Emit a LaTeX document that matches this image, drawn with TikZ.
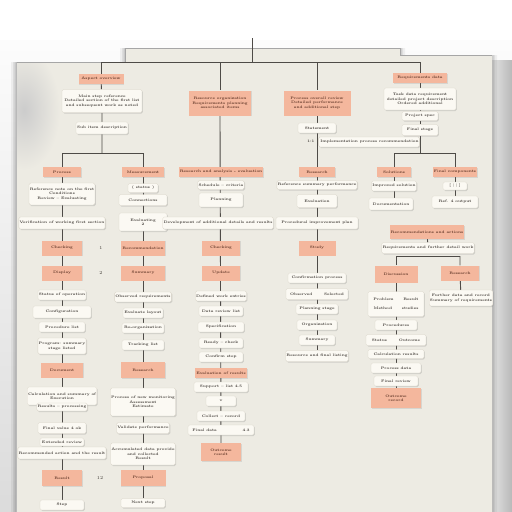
\documentclass[tikz,border=0pt]{standalone}
\usetikzlibrary{shadows,positioning}
\definecolor{paperc}{HTML}{EDEBE3}
\definecolor{salc}{HTML}{F4B79D}
\definecolor{boxc}{HTML}{FBF9F3}
\definecolor{boxd}{HTML}{D9D4C8}
\definecolor{linec}{HTML}{4E4B47}
\definecolor{txtc}{HTML}{3E3934}
\definecolor{saltxt}{HTML}{5E3526}
\pgfdeclarelayer{paperl}
\pgfdeclarelayer{bg}
\pgfsetlayers{paperl,bg,main}
\tikzset{
  base/.style={align=center,inner sep=0.8pt,font=\fontsize{3.6}{4.3}\selectfont\bfseries,text=txtc},
  sal/.style={base,fill=salc,text=saltxt,drop shadow={opacity=0.2,shadow xshift=0.8pt,shadow yshift=-0.9pt}},
  wb/.style={base,fill=boxc,draw=boxd,line width=0.3pt,rounded corners=1.5pt,drop shadow={opacity=0.28,shadow xshift=0.9pt,shadow yshift=-1pt}},
  ln/.style={draw=linec,line width=0.9pt},
  num/.style={font=\fontsize{4.5}{5}\selectfont,text=txtc}
}
\begin{document}
\begin{tikzpicture}[x=1pt,y=-1pt]
\useasboundingbox (0,0) rectangle (512,512);
\begin{pgfonlayer}{paperl}
% surroundings
\shade[top color=white,bottom color=gray!28] (0,0) rectangle (512,512);
\shade[left color=white,right color=gray!55] (478,60) rectangle (512,512);
\fill[white] (0,0) rectangle (512,40);
% paper shadow
\foreach \o/\a in {5/0.05,3/0.07,1.5/0.09}{
  \fill[black,opacity=\a] (16-\o,62) -- (125-\o,62) -- (125-\o,48) -- (400+\o,48) -- (400+\o,55) -- (492+\o,55) -- (492+\o,512) -- (16-\o,512) -- cycle;}
% paper
\fill[paperc] (16,62) -- (125,62) -- (125,48) -- (400,48) -- (400,55) -- (492,55) -- (492,512) -- (16,512) -- cycle;
\begin{scope}
\clip (16,62) rectangle (125,200);
\shade[inner color=gray!40,outer color=paperc] (24,110) ellipse (36 and 60);
\end{scope}
\draw[gray!70,line width=0.5pt] (16,62) -- (125,62) -- (125,48) -- (400,48) -- (400,55) -- (492,55);
\draw[gray!55,line width=0.6pt] (16,62) -- (16,512);
\end{pgfonlayer}

% ---------- column 1 ----------
\node[sal,minimum width=45pt,minimum height=10pt] (a0) at (101,79) {Aspect overview};
\node[wb,minimum width=80pt,minimum height=23pt] (a1) at (102,101) {Main step reference\\Detailed section of the first list\\and subsequent work as noted};
\node[wb,minimum width=52pt,minimum height=12pt] (a2) at (102,128) {Sub item description};
\coordinate (j1) at (102,153);
\coordinate (jl) at (62,153);
\coordinate (jr) at (143,153);

\node[sal,minimum width=38pt,minimum height=10pt] (b1) at (62,172) {Process};
\node[wb,minimum width=54pt,minimum height=22pt] (b2) at (62,194) {Reference note on the first\\Conditions\\Review -- Evaluating};
\node[wb,minimum width=70pt,minimum height=12pt] (b3) at (62,223) {Verification of working first section};
\node[sal,minimum width=40pt,minimum height=15pt] (b4) at (62,248) {Checking};
\node[sal,minimum width=40pt,minimum height=15pt] (b5) at (62,273) {Display};
\node[wb,minimum width=48pt,minimum height=10pt] (b6) at (62,295) {Status of operation};
\node[wb,minimum width=58pt,minimum height=12pt] (b7) at (62,312) {Configuration};
\node[wb,minimum width=46pt,minimum height=10pt] (b8) at (62,327) {Procedure list};
\node[wb,minimum width=44pt,minimum height=16pt] (b9) at (62,346) {Program: summary\\stage listed};
\node[sal,minimum width=42pt,minimum height=15pt] (b10) at (62,370) {Document};
\node[wb,minimum width=60pt,minimum height=18pt] (b11) at (62,396) {Calculation and summary of\\Execution};
\node[wb,minimum width=44pt,minimum height=8pt] (b11b) at (62,407) {Results -- processing};
\node[wb,minimum width=48pt,minimum height=11pt] (b12) at (62,428) {Final value 4 ok};
\node[wb,minimum width=44pt,minimum height=8pt] (b13) at (62,442) {Extended review};
\node[wb,minimum width=76pt,minimum height=12pt] (b14) at (62,453) {Recommended action and the result};
\node[sal,minimum width=40pt,minimum height=16pt] (b15) at (62,478) {Result};
\node[wb,minimum width=44pt,minimum height=10pt] (b16) at (62,505) {Step};

\node[sal,minimum width=42pt,minimum height=10pt] (c1) at (143,172) {Measurement};
\node[wb,minimum width=30pt,minimum height=9pt] (c2) at (143,188) {( status )};
\node[wb,minimum width=48pt,minimum height=11pt] (c3) at (143,200) {Connections};
\node[wb,minimum width=48pt,minimum height=18pt] (c4) at (143,222) {Evaluating\\2};
\node[sal,minimum width=44pt,minimum height=15pt] (c5) at (143,248) {Recommendation};
\node[sal,minimum width=44pt,minimum height=15pt] (c6) at (143,273) {Summary};
\node[wb,minimum width=42pt,minimum height=10pt] (c7) at (143,297) {Observed requirements};
\node[wb,minimum width=40pt,minimum height=10pt] (c8) at (143,313) {Evaluate layout};
\node[wb,minimum width=42pt,minimum height=10pt] (c9) at (143,328) {Re-organization};
\node[wb,minimum width=42pt,minimum height=10pt] (c10) at (143,345) {Tracking list};
\node[sal,minimum width=44pt,minimum height=16pt] (c11) at (143,370) {Research};
\node[wb,minimum width=58pt,minimum height=28pt] (c12) at (143,402) {Process of new monitoring\\Assessment\\Estimate};
\node[wb,minimum width=46pt,minimum height=11pt] (c13) at (143,428) {Validate performance};
\node[wb,minimum width=60pt,minimum height=22pt] (c14) at (143,454) {Accumulated data provide\\and collected\\Result};
\node[sal,minimum width=45pt,minimum height=16pt] (c15) at (143,478) {Proposal};
\node[wb,minimum width=44pt,minimum height=9pt] (c16) at (143,503) {Next step};

\node[num] (n1) at (101,248) {1};
\node[num] (n2) at (101,273) {2};
\node[num] (n3) at (100,478) {12};

% ---------- column 2 ----------
\node[sal,minimum width=62pt,minimum height=25pt] (d0) at (220,103) {Resource organization\\Requirements planning\\associated items};
\node[sal,minimum width=68pt,minimum height=10pt] (d1) at (221,172) {Research and analysis - evaluation};
\node[wb,minimum width=45pt,minimum height=9pt] (d2) at (221,185) {Schedule -- criteria};
\node[wb,minimum width=44pt,minimum height=14pt] (d3) at (221,200) {Planning};
\node[wb,minimum width=78pt,minimum height=12pt] (d4) at (218,223) {Development of additional details and results};
\node[sal,minimum width=38pt,minimum height=15pt] (d5) at (221,248) {Checking};
\node[sal,minimum width=38pt,minimum height=15pt] (d6) at (221,273) {Update};
\node[wb,minimum width=46pt,minimum height=10pt] (d7) at (221,296) {Defined work entries};
\node[wb,minimum width=44pt,minimum height=10pt] (d8) at (221,311) {Data review list};
\node[wb,minimum width=46pt,minimum height=10pt] (d9) at (221,327) {Specification};
\node[wb,minimum width=44pt,minimum height=10pt] (d10) at (221,343) {Ready -- check};
\node[wb,minimum width=44pt,minimum height=10pt] (d11) at (221,357) {Confirm step};
\node[sal,minimum width=52pt,minimum height=10pt] (d12) at (221,373) {Evaluation of results};
\node[wb,minimum width=54pt,minimum height=10pt] (d13) at (221,387) {Support -- list 4.5};
\node[wb,minimum width=30pt,minimum height=10pt] (d14) at (221,401) {v};
\node[wb,minimum width=48pt,minimum height=10pt] (d15) at (221,416) {Collect -- record};
\node[wb,minimum width=66pt,minimum height=10pt] (d16) at (221,430) {Final data {\hskip 22pt} 4.3};
\node[sal,minimum width=40pt,minimum height=18pt] (d17) at (221,452) {Outcome\\result};

% ---------- column 3 ----------
\node[sal,minimum width=67pt,minimum height=25pt] (e0) at (317,103) {Process overall review\\Detailed performance\\and additional step};
\node[wb,minimum width=38pt,minimum height=10pt] (e1) at (317,128) {Statement};
\node[sal,minimum width=36pt,minimum height=10pt] (e2) at (317,172) {Research};
\node[wb,minimum width=66pt,minimum height=9pt] (e3) at (317,185) {Reference summary performance};
\node[wb,minimum width=40pt,minimum height=13pt] (e4) at (317,201) {Evaluation};
\node[wb,minimum width=82pt,minimum height=12pt] (e5) at (317,223) {Procedural improvement plan};
\node[sal,minimum width=37pt,minimum height=15pt] (e6) at (317,248) {Study};
\node[wb,minimum width=58pt,minimum height=10pt] (e7) at (317,278) {Confirmation process};
\node[wb,minimum width=62pt,minimum height=11pt] (e8) at (317,294) {Observed {\hskip 8pt} Selected};
\node[wb,minimum width=42pt,minimum height=10pt] (e9) at (317,309) {Planning stage};
\node[wb,minimum width=40pt,minimum height=10pt] (e10) at (317,325) {Organization};
\node[wb,minimum width=36pt,minimum height=10pt] (e11) at (317,340) {Summary};
\node[wb,minimum width=62pt,minimum height=11pt] (e12) at (317,356) {Resource and final listing};

% ---------- column 4 ----------
\node[sal,minimum width=54pt,minimum height=10pt] (f0) at (420,78) {Requirements data};
\node[wb,minimum width=72pt,minimum height=22pt] (f1) at (420,99) {Task data requirement\\detailed project description\\Ordered additional};
\node[wb,minimum width=36pt,minimum height=9pt] (f2) at (420,116) {Project spec};
\node[wb,minimum width=36pt,minimum height=11pt] (f3) at (420,130) {Final stage};
\node[wb,minimum width=98pt,minimum height=10pt] (f4) at (369,142) {\hskip -12pt 1:1 \hskip 4pt Implementation process recommendation};
\coordinate (q) at (420,153);
\coordinate (g0) at (394,153);
\coordinate (h0) at (455,153);
\node[sal,minimum width=34pt,minimum height=10pt] (g1) at (394,172) {Solutions};
\node[wb,minimum width=44pt,minimum height=10pt] (g2) at (394,186) {Improved solution};
\node[wb,minimum width=44pt,minimum height=12pt] (g3) at (391,204) {Documentation};
\node[sal,minimum width=42pt,minimum height=10pt] (h1) at (455,172) {Final components};
\node[wb,minimum width=24pt,minimum height=8pt] (h2) at (455,186) {[ | | ]};
\node[wb,minimum width=46pt,minimum height=12pt] (h3) at (455,202) {Ref. 4 output};

\node[sal,minimum width=66pt,minimum height=14pt] (k0) at (427,232) {Recommendations and actions};
\node[wb,minimum width=80pt,minimum height=11pt] (k1) at (428,248) {Requirements and further detail work};
\coordinate (p1) at (396,256);
\coordinate (p2) at (460,256);
\node[sal,minimum width=43pt,minimum height=17pt] (k2) at (396,274) {Discussion};
\node[sal,minimum width=38pt,minimum height=15pt] (k3) at (460,273) {Research};
\node[wb,minimum width=50pt,minimum height=16pt] (k4) at (461,298) {Further data and record\\Summary of requirements};
\node[wb,minimum width=56pt,minimum height=25pt] (m1) at (396,304) {Problem {\hskip 6pt} Result\\[5pt]Method {\hskip 6pt} studies};
\node[wb,minimum width=42pt,minimum height=10pt] (m2) at (396,325) {Procedures};
\node[wb,minimum width=60pt,minimum height=11pt] (m3) at (396,340) {Status {\hskip 8pt} Outcome};
\node[wb,minimum width=56pt,minimum height=9pt] (m4) at (396,354) {Calculation results};
\node[wb,minimum width=50pt,minimum height=10pt] (m5) at (396,368) {Process data};
\node[wb,minimum width=44pt,minimum height=10pt] (m6) at (396,381) {Final review};
\node[sal,minimum width=50pt,minimum height=20pt] (m7) at (396,398) {Outcome\\record};

% ---------- connectors ----------
\coordinate (r0) at (252,38);
\coordinate (r1) at (252,62);
\coordinate (t1) at (101,62);
\coordinate (t2) at (220,62);
\coordinate (t3) at (317,62);
\coordinate (t4) at (420,62);
\begin{pgfonlayer}{bg}
\draw[ln] (r0) -- (r1);
\draw[ln] (t1) -- (t4);
\draw[ln] (t1) -- (a0);
\draw[ln] (t2) -- (d0);
\draw[ln] (t3) -- (e0);
\draw[ln] (t4) -- (f0);
\draw[ln] (a0) -- (a1) -- (a2) -- (j1);
\draw[ln] (jl) -- (jr);
\draw[ln] (jl) -- (b1.north);
\draw[ln] (jr) -- (c1.north);
\draw[ln] (b1.south) -- (b16.north);
\draw[ln] (c1.south) -- (c16.north);
\draw[ln] (d0.south) -- (d17.north);
\draw[ln] (e0.south) -- (e12.north);
\draw[ln] (f0) -- (f1) -- (f2) -- (f3) -- (q);
\draw[ln] (g0) -- (h0);
\draw[ln] (g0) -- (g1) -- (g2) -- (g3.north -| g2);
\draw[ln] (h0) -- (h1) -- (h2) -- (h3);
\draw[ln] (k0) -- (k1);
\draw[ln] (p1) -- (p2);
\draw[ln] (p1) -- (k2.north);
\draw[ln] (k2.south) -- (m7.north);
\draw[ln] (p2) -- (k3) -- (k4);
\end{pgfonlayer}
\end{tikzpicture}
\end{document}
